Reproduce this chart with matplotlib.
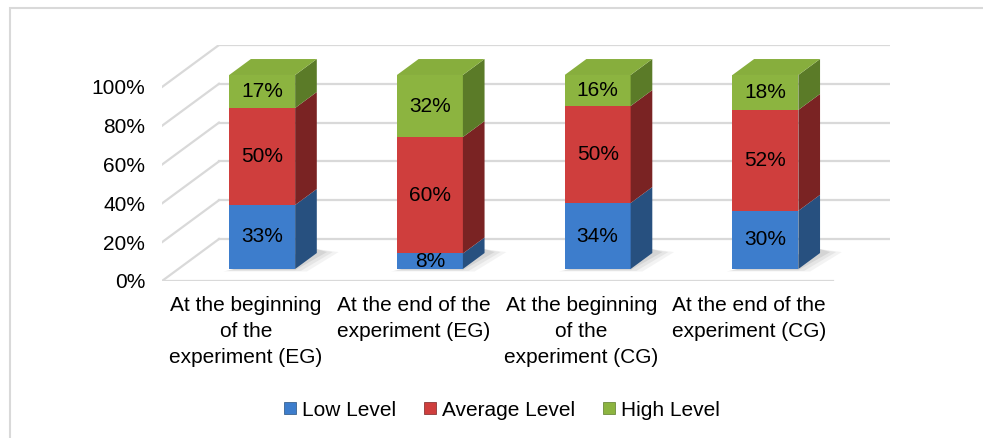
import matplotlib
matplotlib.use("Agg")
import matplotlib.pyplot as plt
from matplotlib.patches import Polygon, Patch, Rectangle
import numpy as np

plt.rcParams['font.family'] = ['Liberation Sans', 'DejaVu Sans']

# data
categories = ["At the beginning\nof the\nexperiment (EG)",
              "At the end of the\nexperiment (EG)",
              "At the beginning\nof the\nexperiment (CG)",
              "At the end of the\nexperiment (CG)"]
series_names = ["Low Level", "Average Level", "High Level"]
low = [33, 8, 34, 30]
average = [50, 60, 50, 52]
high = [17, 32, 16, 18]

front_cols = ["#3D7DCC", "#CF3E3D", "#8CB440"]
side_cols = ["#27507F", "#7A2323", "#5B7B28"]
top_col = "#87AE3D"
grid_col = "#D9D9D9"

# oblique projection settings (depth offset in data units)
DX = 57 / 167.75
DY = 42 / 1.94
z0, dz = 0.286, 0.38
width = 0.393
fs = 15

fig = plt.figure(figsize=(9.83, 4.38), dpi=100)
ax = fig.add_axes([162 / 983, (438 - 281) / 438, (890 - 162) / 983, (281 - 45) / 438])
ax.set_xlim(-0.5, 3.5 + DX)
ax.set_ylim(0, 100 + DY)
for s in ax.spines.values():
    s.set_visible(False)

ticks = [0, 20, 40, 60, 80, 100]
n = len(categories)
for v in ticks:
    ax.plot([-0.5 + DX, n - 0.5 + DX], [v + DY, v + DY], color=grid_col, lw=1.6, zorder=1)
    ax.plot([-0.5, -0.5 + DX], [v, v + DY], color=grid_col, lw=1.6, zorder=1)
ax.plot([-0.5, n - 0.5], [0, 0], color=grid_col, lw=1.6, zorder=1)

x = np.arange(n)
xf = x + z0 * DX
yoff = z0 * DY
sx, sy = dz * DX, dz * DY

# soft shadow on the floor, a few fading layers
for i in range(n):
    r = xf[i] + width / 2
    for j, a in enumerate([0.08, 0.10, 0.14]):
        g = 0.035 * (2 - j)
        shadow = Polygon([(xf[i] - width / 2 - g * 0.5, yoff - 0.6 - g * 10),
                          (r + g, yoff - 0.6 - g * 10),
                          (r + sx + 0.06 + g, yoff + sy + 0.5),
                          (r + sx, yoff + sy + 2)],
                         closed=True, facecolor="#6E6E6E", alpha=a, lw=0, zorder=2)
        ax.add_patch(shadow)

data = [low, average, high]
bottom = np.zeros(n)
for k, vals in enumerate(data):
    vals = np.array(vals, dtype=float)
    ax.bar(xf, vals, width=width, bottom=bottom + yoff, color=front_cols[k],
           label=series_names[k], zorder=3, lw=0)
    for i in range(n):
        r = xf[i] + width / 2
        b = bottom[i] + yoff
        t = b + vals[i]
        side = Polygon([(r, b), (r + sx, b + sy), (r + sx, t + sy), (r, t)],
                       closed=True, facecolor=side_cols[k], lw=0, zorder=3)
        ax.add_patch(side)
        ax.text(xf[i], b + vals[i] / 2, f"{int(vals[i])}%", ha="center", va="center",
                fontsize=fs, color="black", zorder=5)
    bottom += vals

# top faces
for i in range(n):
    l, r = xf[i] - width / 2, xf[i] + width / 2
    t = bottom[i] + yoff
    top = Polygon([(l, t), (r, t), (r + sx, t + sy), (l + sx, t + sy)],
                  closed=True, facecolor=top_col, lw=0, zorder=4)
    ax.add_patch(top)

ax.set_yticks(ticks)
ax.set_yticklabels([f"{v}%" for v in ticks], fontsize=fs)
ax.set_xticks(x)
ax.set_xticklabels(categories, fontsize=fs, linespacing=1.45)
ax.tick_params(axis="both", length=0)
ax.tick_params(axis="y", pad=12)
ax.tick_params(axis="x", pad=11)

handles = [Patch(facecolor=c, edgecolor=s, lw=0.5) for c, s in zip(front_cols, side_cols)]
fig.legend(handles, series_names, loc="center", bbox_to_anchor=(502 / 983, 1 - 410 / 438),
           ncol=3, frameon=False, fontsize=fs, handlelength=0.55, handleheight=0.55,
           handletextpad=0.3, columnspacing=1.35)

fig.add_artist(Rectangle((10 / 983, -0.1), 1.2, 1.1 - 8 / 438, transform=fig.transFigure,
                         fill=False, edgecolor=grid_col, lw=1.5))

fig.savefig("out.png", dpi=100, facecolor="white")
